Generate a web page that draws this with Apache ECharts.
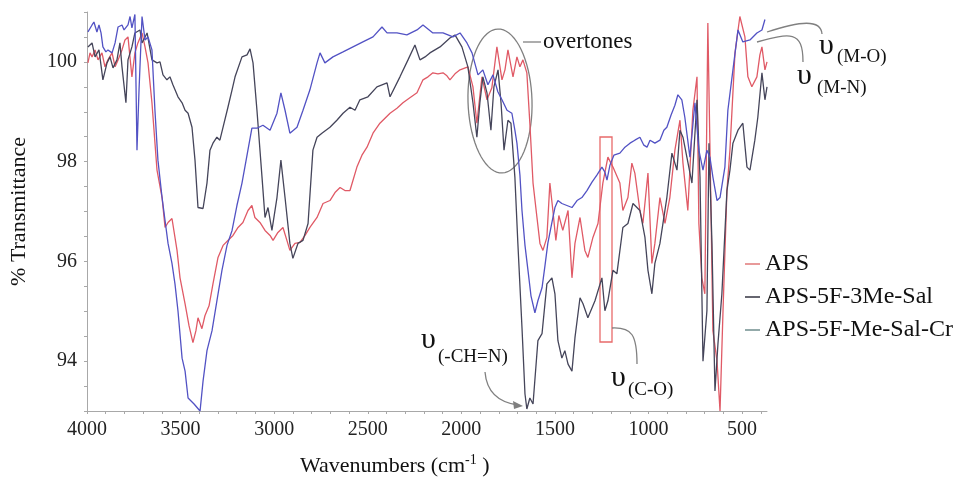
<!DOCTYPE html>
<html lang="en">
<head>
    <meta charset="utf-8">
    <title>IR spectra</title>
    <script src="https://cdn.jsdelivr.net/npm/echarts@6/dist/echarts.min.js"></script>
    <style>
        html, body { margin: 0; padding: 0; background: #fff; }
    </style>
</head>
<body>
<div id="main" style="width: 968px;height:481px;"></div>

<script>
    // [wavenumber (cm-1), % transmittance]
    let aps = [
        [3995, 99.98], [3984, 100.18], [3973, 100.10], [3957, 100.24], [3941, 100.04], [3920, 100.18], [3904, 99.90],
        [3888, 100.04], [3866, 100.18], [3850, 99.90], [3834, 100.04], [3813, 100.24], [3797, 100.44], [3781, 100.50],
        [3760, 99.70], [3744, 100.18], [3728, 100.38], [3706, 100.58], [3690, 100.30], [3674, 99.98], [3653, 99.18],
        [3626, 97.83], [3599, 97.28], [3583, 96.68], [3567, 96.78], [3546, 96.86], [3519, 96.22], [3503, 95.67],
        [3476, 95.15], [3455, 94.71], [3434, 94.37], [3418, 94.61], [3407, 94.87], [3386, 94.65], [3370, 94.91],
        [3348, 95.11], [3327, 95.55], [3300, 96.08], [3273, 96.32], [3247, 96.42], [3220, 96.52], [3193, 96.68],
        [3167, 96.78], [3140, 97.02], [3119, 97.12], [3103, 96.88], [3076, 96.78], [3049, 96.62], [3022, 96.52],
        [3006, 96.42], [2980, 96.58], [2953, 96.68], [2932, 96.42], [2916, 96.22], [2889, 96.36], [2862, 96.38],
        [2835, 96.52], [2809, 96.68], [2771, 96.88], [2739, 97.16], [2702, 97.22], [2675, 97.38], [2648, 97.48],
        [2622, 97.42], [2595, 97.42], [2558, 97.89], [2531, 98.13], [2504, 98.29], [2472, 98.57], [2435, 98.77],
        [2381, 98.97], [2344, 99.07], [2312, 99.18], [2275, 99.28], [2237, 99.38], [2205, 99.64], [2178, 99.70],
        [2152, 99.78], [2125, 99.76], [2098, 99.78], [2077, 99.72], [2061, 99.64], [2034, 99.76], [2007, 99.84],
        [1965, 99.90], [1938, 99.50], [1917, 98.77], [1890, 99.70], [1863, 99.24], [1837, 99.48], [1810, 100.30],
        [1783, 99.64], [1767, 99.84], [1751, 100.24], [1724, 99.70], [1703, 100.10], [1687, 99.90], [1671, 100.04],
        [1650, 99.78], [1634, 98.77], [1617, 97.57], [1596, 96.88], [1580, 96.36], [1564, 96.22], [1543, 96.48],
        [1527, 97.57], [1511, 97.02], [1495, 96.42], [1479, 96.92], [1458, 96.62], [1430, 97.02], [1409, 95.67],
        [1393, 96.36], [1366, 96.88], [1340, 96.22], [1324, 96.08], [1297, 96.48], [1270, 96.76], [1244, 97.57],
        [1217, 98.09], [1190, 97.89], [1153, 97.57], [1137, 97.02], [1110, 97.28], [1089, 97.97], [1073, 97.77],
        [1046, 97.02], [1030, 96.76], [1003, 97.77], [982, 95.96], [966, 96.36], [939, 97.28], [912, 96.76],
        [886, 97.28], [859, 98.23], [832, 98.83], [816, 97.97], [790, 97.02], [763, 99.03], [741, 99.70],
        [731, 96.76], [715, 95.67], [699, 95.35], [683, 100.78], [667, 97.22], [656, 94.61], [634, 94.00],
        [618, 93.00], [602, 95.01], [581, 97.42], [565, 98.23], [538, 100.18], [512, 100.91], [485, 100.50],
        [469, 99.70], [448, 99.50], [421, 99.70], [405, 100.14], [394, 100.30], [378, 99.84], [367, 100.00]
    ];

    let ligand = [
        [3995, 100.30], [3973, 100.38], [3957, 100.10], [3936, 100.24], [3915, 99.64], [3893, 99.98], [3877, 100.10],
        [3861, 99.88], [3840, 100.04], [3824, 100.38], [3813, 99.90], [3792, 99.18], [3781, 100.04], [3760, 100.30],
        [3744, 100.58], [3717, 100.64], [3706, 100.38], [3679, 100.58], [3653, 100.04], [3626, 99.98], [3610, 100.00],
        [3594, 99.74], [3573, 99.64], [3557, 99.70], [3541, 99.54], [3514, 99.30], [3492, 99.18], [3476, 99.03],
        [3460, 98.97], [3439, 98.69], [3423, 98.03], [3407, 97.08], [3380, 97.06], [3359, 97.57], [3343, 98.23],
        [3327, 98.37], [3306, 98.49], [3290, 98.43], [3273, 98.69], [3247, 99.09], [3225, 99.44], [3209, 99.70],
        [3172, 100.10], [3145, 100.14], [3129, 100.26], [3113, 99.98], [3092, 99.03], [3065, 97.69], [3049, 96.88],
        [3033, 97.08], [3012, 96.62], [2985, 97.28], [2964, 98.03], [2942, 97.28], [2916, 96.36], [2900, 96.06],
        [2873, 96.36], [2846, 96.42], [2819, 96.76], [2793, 98.23], [2771, 98.49], [2745, 98.57], [2702, 98.69],
        [2665, 98.83], [2632, 98.97], [2595, 99.09], [2568, 99.03], [2542, 99.24], [2499, 99.30], [2451, 99.50],
        [2397, 99.58], [2381, 99.30], [2328, 99.70], [2285, 100.04], [2248, 100.34], [2221, 100.04], [2194, 100.10],
        [2168, 100.18], [2114, 100.30], [2061, 100.48], [2034, 100.54], [1997, 100.30], [1965, 99.90], [1938, 99.18],
        [1917, 98.49], [1901, 99.18], [1885, 99.70], [1863, 99.38], [1842, 98.63], [1826, 99.50], [1804, 99.84],
        [1788, 99.18], [1772, 98.23], [1751, 98.83], [1735, 98.77], [1714, 97.69], [1698, 96.36], [1676, 94.67],
        [1660, 93.34], [1650, 93.04], [1634, 93.26], [1617, 93.14], [1591, 94.41], [1569, 94.55], [1543, 95.55],
        [1516, 95.67], [1500, 95.35], [1484, 94.41], [1463, 94.06], [1447, 94.21], [1430, 93.94], [1409, 93.80],
        [1393, 94.47], [1366, 95.27], [1350, 95.15], [1324, 94.87], [1286, 95.21], [1249, 95.67], [1233, 95.01],
        [1217, 95.21], [1190, 95.82], [1169, 95.75], [1137, 96.68], [1110, 96.76], [1083, 97.16], [1046, 97.02],
        [1019, 96.48], [1003, 95.82], [982, 95.35], [966, 95.96], [939, 96.36], [902, 97.28], [875, 98.17],
        [848, 97.83], [832, 98.63], [816, 98.49], [768, 97.57], [741, 99.24], [725, 97.69], [709, 94.00],
        [688, 95.01], [677, 98.37], [661, 96.36], [645, 93.40], [629, 94.35], [608, 95.35], [581, 97.42],
        [565, 97.83], [549, 98.37], [522, 98.63], [496, 98.77], [474, 97.89], [458, 97.83], [432, 98.43],
        [416, 98.89], [394, 99.78], [378, 99.24], [367, 99.50]
    ];

    let complex = [
        [3995, 100.60], [3973, 100.74], [3963, 100.80], [3947, 100.60], [3936, 100.74], [3925, 100.58], [3915, 100.30],
        [3899, 100.20], [3888, 100.24], [3866, 100.18], [3850, 100.38], [3834, 100.70], [3813, 100.74], [3802, 100.64],
        [3781, 100.74], [3770, 100.91], [3760, 100.68], [3744, 100.95], [3738, 99.50], [3733, 98.23], [3722, 99.44],
        [3706, 100.91], [3690, 100.44], [3674, 100.50], [3653, 100.24], [3637, 99.03], [3621, 98.03], [3599, 97.28],
        [3583, 96.82], [3567, 96.36], [3546, 95.96], [3530, 95.55], [3514, 95.01], [3492, 94.06], [3476, 93.80],
        [3460, 93.26], [3428, 93.14], [3396, 93.00], [3380, 93.60], [3359, 94.21], [3332, 94.61], [3306, 95.21],
        [3279, 95.82], [3252, 96.32], [3225, 96.62], [3199, 97.12], [3172, 97.57], [3145, 98.13], [3119, 98.67],
        [3092, 98.67], [3060, 98.73], [3022, 98.63], [2985, 98.97], [2964, 99.38], [2942, 99.03], [2916, 98.57],
        [2878, 98.69], [2846, 99.03], [2809, 99.44], [2771, 99.98], [2755, 100.18], [2729, 99.98], [2686, 100.10],
        [2632, 100.20], [2579, 100.30], [2526, 100.40], [2472, 100.50], [2424, 100.70], [2397, 100.58], [2344, 100.58],
        [2291, 100.54], [2237, 100.64], [2205, 100.74], [2152, 100.58], [2098, 100.58], [2045, 100.50], [2007, 100.58],
        [1970, 100.38], [1943, 100.18], [1911, 99.74], [1885, 99.84], [1858, 99.54], [1831, 99.74], [1805, 99.40],
        [1783, 99.24], [1756, 99.03], [1730, 98.97], [1714, 98.63], [1703, 98.37], [1687, 97.73], [1676, 97.02],
        [1660, 96.32], [1644, 95.82], [1628, 95.31], [1607, 94.97], [1591, 95.21], [1569, 95.47], [1553, 95.92],
        [1538, 96.36], [1516, 96.78], [1500, 97.08], [1484, 97.22], [1463, 97.16], [1436, 97.12], [1409, 97.08],
        [1382, 97.22], [1356, 97.28], [1329, 97.42], [1302, 97.59], [1276, 97.73], [1249, 97.89], [1233, 97.79],
        [1222, 97.63], [1206, 97.93], [1185, 98.13], [1153, 98.17], [1126, 98.29], [1099, 98.37], [1073, 98.43],
        [1046, 98.49], [1025, 98.33], [1008, 98.29], [992, 98.43], [966, 98.37], [939, 98.43], [918, 98.63],
        [902, 98.69], [880, 98.93], [859, 99.13], [843, 99.34], [822, 99.24], [806, 98.89], [779, 98.09],
        [752, 99.18], [731, 98.23], [709, 97.83], [688, 98.23], [672, 98.09], [656, 97.69], [634, 97.22],
        [618, 97.28], [592, 97.89], [576, 99.03], [549, 99.84], [522, 100.64], [496, 100.40], [458, 100.44],
        [421, 100.58], [394, 100.64], [378, 100.85]
    ];

    let names = ['APS', 'APS-5F-3Me-Sal', 'APS-5F-Me-Sal-Cr'];
    let xLabels = [4000, 3500, 3000, 2500, 2000, 1500, 1000, 500];
    let xTicks = [4000, 3900, 3800, 3700, 3600, 3500, 3400, 3300, 3200, 3100, 3000, 2900, 2800, 2700, 2600,
        2500, 2400, 2300, 2200, 2100, 2000, 1900, 1800, 1700, 1600, 1500, 1400, 1300, 1200, 1100, 1000,
        900, 800, 700, 600, 500, 400];

    let serif = 'Liberation Serif';
    let myChart = echarts.init(document.getElementById('main'));

    // ellipse round the overtone region
    let ell = [];
    for (let i = 0; i < 72; i++) {
        let a = i / 72 * Math.PI * 2;
        let ex = 32 * Math.cos(a), ey = 72 * Math.sin(a);
        let r = -0.03;
        ell.push([500 + ex * Math.cos(r) - ey * Math.sin(r), 101 + ex * Math.sin(r) + ey * Math.cos(r)]);
    }

    let annColor = '#808080';
    let ups = function (x, y) {
        return {type: 'text', x: x, y: y, style: {text: 'υ', font: '30px ' + serif, fill: '#111', verticalAlign: 'middle'}};
    };
    let sub = function (x, y, t) {
        return {type: 'text', x: x, y: y, style: {text: t, font: '19px ' + serif, fill: '#111', verticalAlign: 'middle'}};
    };

    let option = {
        animation: false,
        backgroundColor: '#fff',
        grid: {left: 87, right: 201, top: 12, bottom: 70},
        legend: {
            orient: 'vertical',
            left: 740,
            top: 247,
            icon: 'rect',
            itemWidth: 15,
            itemHeight: 2,
            itemGap: 9,
            textStyle: {fontFamily: serif, fontSize: 24, color: '#111'},
            data: [
                {name: names[0], itemStyle: {color: '#e89a9a'}},
                {name: names[1], itemStyle: {color: '#666670'}},
                {name: names[2], itemStyle: {color: '#93aaaa'}}
            ]
        },
        xAxis: {
            type: 'value',
            inverse: true,
            min: 367,
            max: 4000,
            axisLine: {lineStyle: {color: '#a8a8a8', width: 1}},
            axisTick: {customValues: xTicks, length: 3, lineStyle: {color: '#a8a8a8'}},
            axisLabel: {
                customValues: xLabels, fontFamily: serif, fontSize: 20, color: '#222', margin: 9,
                formatter: function (v) { return String(v); }
            },
            splitLine: {show: false}
        },
        yAxis: {
            type: 'value',
            min: 93,
            max: 101,
            interval: 0.5,
            name: '% Transmittance',
            nameLocation: 'middle',
            nameGap: 57,
            nameTextStyle: {fontFamily: serif, fontSize: 22, color: '#111'},
            axisLine: {show: true, lineStyle: {color: '#a8a8a8', width: 1}},
            axisTick: {show: true, length: 3, lineStyle: {color: '#a8a8a8'}},
            axisLabel: {
                fontFamily: serif, fontSize: 20, color: '#222', margin: 10,
                formatter: function (v) { return v % 2 === 0 ? String(v) : ''; }
            },
            splitLine: {show: false}
        },
        series: [
            {name: names[0], type: 'line', data: aps, symbol: 'none', lineStyle: {width: 1.3, color: '#e05a66'}, itemStyle: {color: '#e05a66'}},
            {name: names[1], type: 'line', data: ligand, symbol: 'none', lineStyle: {width: 1.3, color: '#45455a'}, itemStyle: {color: '#45455a'}},
            {name: names[2], type: 'line', data: complex, symbol: 'none', lineStyle: {width: 1.3, color: '#5252c4'}, itemStyle: {color: '#5252c4'}}
        ],
        graphic: [
            {type: 'polygon', shape: {points: ell}, style: {fill: 'none', stroke: annColor, lineWidth: 1.3}},
            {type: 'line', shape: {x1: 523, y1: 42, x2: 541, y2: 42}, style: {stroke: annColor, lineWidth: 1.3}},
            {type: 'text', x: 543, y: 42, style: {text: 'overtones', font: '23px ' + serif, fill: '#111', verticalAlign: 'middle'}},
            {type: 'rect', shape: {x: 600, y: 137, width: 12, height: 205}, style: {fill: 'none', stroke: '#e86a6a', lineWidth: 1.3}},
            {type: 'bezierCurve', shape: {x1: 612, y1: 328, cpx1: 632, cpy1: 327, cpx2: 637, cpy2: 335, x2: 637, y2: 364}, style: {fill: 'none', stroke: annColor, lineWidth: 1.3}},
            {type: 'bezierCurve', shape: {x1: 485, y1: 372, cpx1: 487, cpy1: 396, cpx2: 503, cpy2: 403, x2: 518, y2: 405}, style: {fill: 'none', stroke: annColor, lineWidth: 1.3}},
            {type: 'polygon', shape: {points: [[523, 406], [513, 401], [514, 409]]}, style: {fill: annColor}},
            {type: 'bezierCurve', shape: {x1: 767, y1: 32, cpx1: 800, cpy1: 21, cpx2: 821, cpy2: 19, x2: 822, y2: 34}, style: {fill: 'none', stroke: annColor, lineWidth: 1.3}},
            {type: 'bezierCurve', shape: {x1: 757, y1: 42, cpx1: 790, cpy1: 33, cpx2: 803, cpy2: 30, x2: 803, y2: 62}, style: {fill: 'none', stroke: annColor, lineWidth: 1.3}},
            ups(421, 340), sub(438, 357, '(-CH=N)'),
            ups(611, 378), sub(628, 390, '(C-O)'),
            ups(819, 46), sub(837, 57, '(M-O)'),
            ups(797, 76), sub(817, 88, '(M-N)'),
            {
                type: 'text', x: 300, y: 466,
                style: {
                    text: '{a|Wavenumbers (cm}{s|-1}{a| )}',
                    verticalAlign: 'middle',
                    rich: {
                        a: {font: '22px ' + serif, fill: '#111'},
                        s: {font: '14px ' + serif, fill: '#111', padding: [0, 0, 12, 0]}
                    }
                }
            }
        ]
    };
    myChart.setOption(option);
</script>
</body>
</html>
